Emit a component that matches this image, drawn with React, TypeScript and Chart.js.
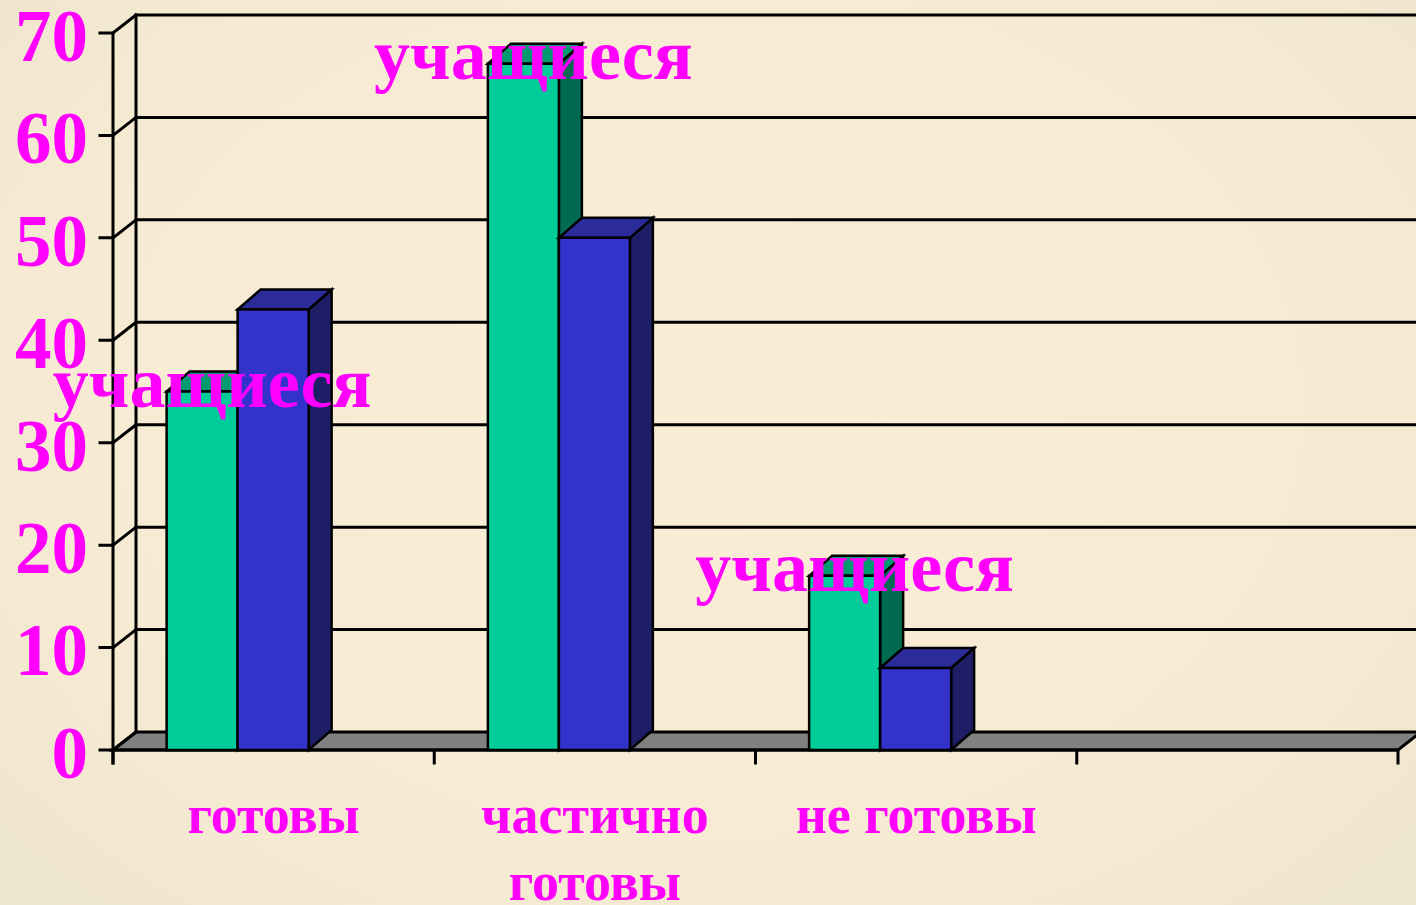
import React, { useEffect, useRef } from "react";
import { Chart, registerables } from "chart.js";

Chart.register(...registerables);

// ---- data ----
const categories = ["готовы", "частично готовы", "не готовы", ""];
const seriesNames = ["учащиеся", "Ряд 2"];
const studentsValues = [35, 67, 17, null];
const series2Values = [43, 50, 8, null];
const yTicks = [0, 10, 20, 30, 40, 50, 60, 70];

// ---- styling ----
const MAGENTA = "#FF00FF";
const FONT = "'Liberation Serif', 'Times New Roman', serif";
const FRONT = ["#00CC99", "#3333CC"];
const SIDE = ["#006B50", "#1E1E66"];
const TOP = ["#009970", "#2B2B99"];
const WALL_DX = 23;
const WALL_DY = -18;
const BAR_DX = 23;
const BAR_DY = -20;
const BAR_SHIFT = -36;

const threeD = {
  id: "threeD",
  beforeDatasetsDraw(chart: any) {
    const { ctx, chartArea: a, scales } = chart;
    const x = scales.x;
    const y = scales.y;
    const W = chart.width;
    ctx.save();
    ctx.strokeStyle = "#000";
    ctx.lineCap = "square";

    // floor
    ctx.lineWidth = 3;
    ctx.beginPath();
    ctx.moveTo(a.left, a.bottom);
    ctx.lineTo(a.right, a.bottom);
    ctx.lineTo(a.right + WALL_DX, a.bottom + WALL_DY);
    ctx.lineTo(a.left + WALL_DX, a.bottom + WALL_DY);
    ctx.closePath();
    ctx.fillStyle = "#808080";
    ctx.fill();
    ctx.stroke();

    // back wall gridlines + left wall diagonals
    ctx.lineWidth = 3;
    for (const v of yTicks) {
      const py = y.getPixelForValue(v);
      ctx.beginPath();
      if (v > 0) {
        ctx.moveTo(a.left + WALL_DX, py + WALL_DY);
        ctx.lineTo(W, py + WALL_DY);
      }
      ctx.moveTo(a.left, py);
      ctx.lineTo(a.left + WALL_DX, py + WALL_DY);
      // tick mark
      ctx.moveTo(a.left - 13, py);
      ctx.lineTo(a.left, py);
      ctx.stroke();
    }
    // left wall verticals
    ctx.beginPath();
    ctx.moveTo(a.left, y.getPixelForValue(70));
    ctx.lineTo(a.left, a.bottom + 13);
    ctx.moveTo(a.left + WALL_DX, y.getPixelForValue(70) + WALL_DY);
    ctx.lineTo(a.left + WALL_DX, a.bottom + WALL_DY);
    ctx.stroke();

    // x axis line and ticks
    const n = categories.length;
    const catW = (a.right - a.left) / n;
    ctx.beginPath();
    ctx.moveTo(a.left, a.bottom);
    ctx.lineTo(a.right, a.bottom);
    for (let i = 0; i <= n; i++) {
      const px = a.left + i * catW;
      ctx.moveTo(px, a.bottom);
      ctx.lineTo(px, a.bottom + 13);
    }
    ctx.stroke();

    // y tick labels
    ctx.fillStyle = MAGENTA;
    ctx.font = `bold 73px ${FONT}`;
    ctx.textAlign = "right";
    ctx.textBaseline = "middle";
    for (const v of yTicks) {
      const py = y.getPixelForValue(v);
      ctx.fillText(String(v), a.left - 25, py + 9);
    }

    // category labels
    ctx.font = `bold 54px ${FONT}`;
    ctx.textAlign = "center";
    ctx.textBaseline = "alphabetic";
    categories.forEach((c, i) => {
      if (!c) return;
      const px = x.getPixelForValue(i);
      const words = c.split(" ");
      const lines: string[] = [];
      let cur = "";
      for (const w of words) {
        const t = cur ? cur + " " + w : w;
        if (ctx.measureText(t).width > catW - 30 && cur) {
          lines.push(cur);
          cur = w;
        } else cur = t;
      }
      if (cur) lines.push(cur);
      lines.forEach((l, k) => ctx.fillText(l, px, a.bottom + 83 + k * 67));
    });
    ctx.restore();
  },
  afterDatasetsDraw(chart: any) {
    const { ctx } = chart;
    ctx.save();
    ctx.strokeStyle = "#000";
    ctx.lineWidth = 2.5;
    ctx.lineJoin = "miter";
    chart.data.datasets.forEach((ds: any, di: number) => {
      const meta = chart.getDatasetMeta(di);
      meta.data.forEach((el: any, i: number) => {
        if (ds.data[i] == null) return;
        const x0 = el.x - el.width / 2 + BAR_SHIFT;
        const x1 = x0 + el.width;
        const top = el.y;
        const base = el.base;
        // side
        ctx.beginPath();
        ctx.moveTo(x1, top);
        ctx.lineTo(x1 + BAR_DX, top + BAR_DY);
        ctx.lineTo(x1 + BAR_DX, base + BAR_DY);
        ctx.lineTo(x1, base);
        ctx.closePath();
        ctx.fillStyle = SIDE[di];
        ctx.fill();
        ctx.stroke();
        // top
        ctx.beginPath();
        ctx.moveTo(x0, top);
        ctx.lineTo(x0 + BAR_DX, top + BAR_DY);
        ctx.lineTo(x1 + BAR_DX, top + BAR_DY);
        ctx.lineTo(x1, top);
        ctx.closePath();
        ctx.fillStyle = TOP[di];
        ctx.fill();
        ctx.stroke();
        // front
        ctx.beginPath();
        ctx.rect(x0, top, x1 - x0, base - top);
        ctx.fillStyle = FRONT[di];
        ctx.fill();
        ctx.stroke();
      });
    });
    // data labels (series name) for first series
    const meta0 = chart.getDatasetMeta(0);
    ctx.fillStyle = MAGENTA;
    ctx.font = `bold 72px ${FONT}`;
    ctx.textAlign = "center";
    ctx.textBaseline = "alphabetic";
    meta0.data.forEach((el: any, i: number) => {
      if (chart.data.datasets[0].data[i] == null) return;
      ctx.fillText(seriesNames[0], el.x + BAR_SHIFT + 10, el.y + 15);
    });
    ctx.restore();
  },
};

export default function App() {
  const ref = useRef<HTMLCanvasElement | null>(null);
  useEffect(() => {
    if (!ref.current) return;
    const chart = new Chart(ref.current, {
      type: "bar",
      data: {
        labels: categories,
        datasets: [
          {
            label: seriesNames[0],
            data: studentsValues,
            backgroundColor: "rgba(0,0,0,0)",
            borderWidth: 0,
            categoryPercentage: 0.442,
            barPercentage: 1,
          },
          {
            label: seriesNames[1],
            data: series2Values,
            backgroundColor: "rgba(0,0,0,0)",
            borderWidth: 0,
            categoryPercentage: 0.442,
            barPercentage: 1,
          },
        ],
      },
      options: {
        animation: false,
        responsive: true,
        maintainAspectRatio: false,
        layout: { padding: { left: 113, right: 18, top: 33, bottom: 155 } },
        scales: {
          x: { display: false },
          y: { display: false, min: 0, max: 70 },
        },
        plugins: { legend: { display: false }, tooltip: { enabled: false } },
      },
      plugins: [threeD],
    });
    return () => chart.destroy();
  }, []);
  return (
    <div
      style={{
        position: "fixed",
        left: 0,
        top: 0,
        width: 1416,
        height: 905,
        background:
          "radial-gradient(ellipse 75% 85% at 50% 45%, #FBEDD5 0%, #F8EBD3 55%, #ECE4CD 100%)",
      }}
    >
      <canvas ref={ref} />
    </div>
  );
}
